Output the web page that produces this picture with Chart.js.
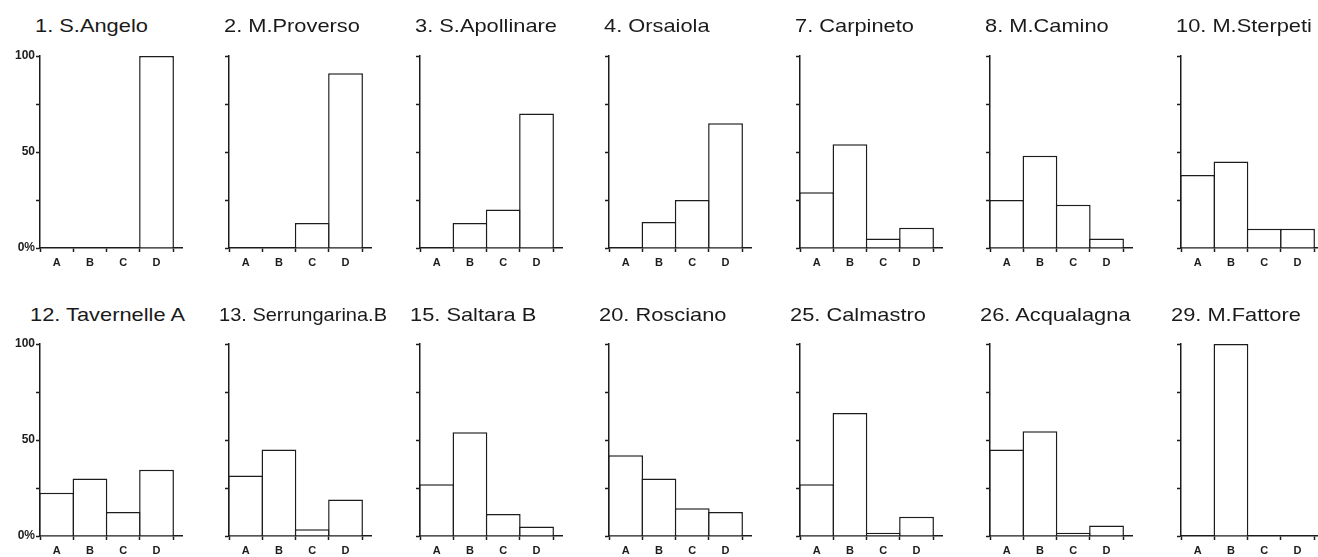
<!DOCTYPE html>
<html><head><meta charset="utf-8">
<script src="https://cdn.jsdelivr.net/npm/chart.js@4/dist/chart.umd.min.js"></script>
<style>
html,body{margin:0;padding:0;background:#fff;width:1318px;height:557px;overflow:hidden;position:relative}
canvas.panel{position:absolute}
.title{position:absolute;font-family:"Liberation Sans",Arial,sans-serif;font-size:18.5px;line-height:18px;color:#1a1a1a;white-space:pre;transform:scaleX(1.18);transform-origin:0 50%}
</style></head><body>
<script>
// ---- data ----
const categories = ['A', 'B', 'C', 'D'];
const siteTitles = [
  '1. S.Angelo', '2. M.Proverso', '3. S.Apollinare', '4. Orsaiola', '7. Carpineto', '8. M.Camino', '10. M.Sterpeti',
  '12. Tavernelle A', '13. Serrungarina.B', '15. Saltara B', '20. Rosciano', '25. Calmastro', '26. Acqualagna', '29. M.Fattore'
];
const sAngelo     = [0, 0, 0, 100];
const mProverso   = [0, 0, 13, 91];
const sApollinare = [0, 13, 20, 70];
const orsaiola    = [0, 13.5, 25, 65];
const carpineto   = [29, 54, 5, 10.5];
const mCamino     = [25, 48, 22.5, 5];
const mSterpeti   = [38, 45, 10, 10];
const tavernelleA = [22.5, 30, 12.5, 34.5];
const serrungarinaB = [31.5, 45, 3.5, 19];
const saltaraB    = [27, 54, 11.5, 5];
const rosciano    = [42, 30, 14.5, 12.5];
const calmastro   = [27, 64, 1.7, 10];
const acqualagna  = [45, 54.5, 1.7, 5.5];
const mFattore    = [0, 100, 0, 0];
const yTickValues = [0, 25, 50, 75, 100];
const yTickLabels = ['0%', '', '50', '', '100'];

const siteValues = [sAngelo, mProverso, sApollinare, orsaiola, carpineto, mCamino, mSterpeti,
  tavernelleA, serrungarinaB, saltaraB, rosciano, calmastro, acqualagna, mFattore];

// ---- layout ----
const INK = '#1c1c1c';
const FAMILY = '"Liberation Sans", Arial, Helvetica, sans-serif';
const panelAxisX = [40, 229, 420, 609, 800, 990, 1181];
const rowCanvasTop = [40, 328];
const titleTop = [17, 306];
const titleShift = [5, 10];
const TITLE_SCALE = 1.18;
const TITLE_MAX_W = 168;

function makeChart(canvas, values, showYLabels) {
  const n = categories.length;
  const xTicks = [];
  for (let i = 0; i <= n; i++) { xTicks.push(i); if (i < n) xTicks.push(i + 0.5); }
  return new Chart(canvas, {
    type: 'bar',
    data: {
      datasets: [{
        data: values.map((v, i) => ({ x: i + 0.5, y: v })),
        backgroundColor: '#ffffff',
        borderColor: INK,
        borderWidth: 1.5,
        borderSkipped: 'start',
        categoryPercentage: 1,
        // the bar ruler also sees the half-step ticks, so the sample size is half a category;
        // a little over 2 makes neighbouring bars share a single outline
        barPercentage: 2.09
      }]
    },
    options: {
      responsive: false,
      animation: false,
      events: [],
      layout: { padding: { top: 16, right: 7.5, left: 0, bottom: 0 } },
      plugins: { legend: { display: false }, tooltip: { enabled: false }, title: { display: false } },
      scales: {
        x: {
          type: 'linear', min: 0, max: n + 0.28, offset: false, z: 1,
          afterBuildTicks: (s) => { s.ticks = xTicks.map(v => ({ value: v })); },
          afterFit: (s) => { s.height = 32; },
          border: { color: INK, width: 1.5 },
          grid: {
            offset: false, drawOnChartArea: false, drawTicks: true, tickLength: 4, tickWidth: 1.5,
            tickColor: (c) => (c.tick && Number.isInteger(c.tick.value)) ? INK : 'rgba(0,0,0,0)'
          },
          ticks: {
            autoSkip: false, maxRotation: 0, minRotation: 0, padding: 4, color: INK,
            font: { family: FAMILY, size: 11, weight: 'bold' },
            callback: (v) => { const i = v - 0.5; return Number.isInteger(i) ? categories[i] : ''; }
          }
        },
        y: {
          min: 0, max: 100, z: 1,
          afterBuildTicks: (s) => { s.ticks = yTickValues.map(v => ({ value: v })); },
          afterFit: (s) => { s.width = 40; },
          border: { color: INK, width: 1.5 },
          grid: { drawOnChartArea: false, drawTicks: true, tickLength: 4, tickWidth: 1.5, tickColor: INK },
          ticks: {
            display: showYLabels, padding: 1, color: INK,
            font: { family: FAMILY, size: 12, weight: 'bold' },
            callback: (v) => { const k = yTickValues.indexOf(v); return k >= 0 ? yTickLabels[k] : ''; }
          }
        }
      }
    }
  });
}

siteValues.forEach((vals, idx) => {
  const row = Math.floor(idx / 7), col = idx % 7;
  const cv = document.createElement('canvas');
  cv.className = 'panel';
  cv.width = 190; cv.height = 240;
  cv.style.width = '190px'; cv.style.height = '240px';
  cv.style.left = (panelAxisX[col] - 40) + 'px';
  cv.style.top = rowCanvasTop[row] + 'px';
  document.body.appendChild(cv);
  makeChart(cv, vals, col === 0);
  const t = document.createElement('div');
  t.className = 'title';
  t.textContent = siteTitles[idx];
  t.style.left = (panelAxisX[col] - titleShift[row]) + 'px';
  t.style.top = titleTop[row] + 'px';
  document.body.appendChild(t);
  const w = t.getBoundingClientRect().width;
  if (w > TITLE_MAX_W) t.style.transform = 'scaleX(' + (TITLE_SCALE * TITLE_MAX_W / w) + ')';
});
</script>
</body></html>
